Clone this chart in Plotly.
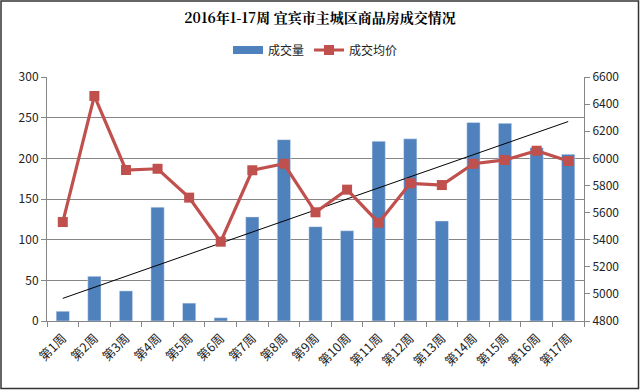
import numpy as np
import plotly.graph_objects as go

weeks = [f"第{i}周" for i in range(1, 18)]
volume = [12, 55, 37, 140, 22, 4, 128, 223, 116, 111, 221, 224, 123, 244, 243, 213, 205]
avg_price = [5530, 6460, 5914, 5923, 5710, 5385, 5912, 5960, 5602, 5769, 5525, 5816, 5803, 5960, 5988, 6056, 5980]
left_ticks = [0, 50, 100, 150, 200, 250, 300]
right_ticks = [4800, 5000, 5200, 5400, 5600, 5800, 6000, 6200, 6400, 6600]

W, H = 640, 390
L, R, T, B = 47, 56, 77, 69
pw, ph = W - L - R, H - T - B

idx = np.arange(len(volume))
k, b = np.polyfit(idx, volume, 1)
trend = k * idx + b

fig = go.Figure()
fig.add_trace(go.Bar(x=weeks, y=volume, name="成交量", marker_color="#4F81BD",
                     width=0.42, yaxis="y", showlegend=False))
# legend proxy: wide rectangle swatch like the original
fig.add_trace(go.Scatter(x=[None], y=[None], mode="lines", name="成交量",
                         line=dict(color="#4F81BD", width=8), yaxis="y"))
fig.add_trace(go.Scatter(x=weeks, y=avg_price, name="成交均价", mode="lines+markers",
                         line=dict(color="#C0504D", width=3.2),
                         marker=dict(symbol="square", size=10, color="#C0504D"),
                         yaxis="y2"))
fig.add_trace(go.Scatter(x=weeks, y=trend, mode="lines", showlegend=False,
                         line=dict(color="black", width=1), yaxis="y", hoverinfo="skip"))

fig.update_layout(
    width=W, height=H,
    margin=dict(l=L, r=R, t=T, b=B, autoexpand=False),
    paper_bgcolor="white", plot_bgcolor="white",
    font=dict(family="'Noto Sans CJK SC', sans-serif", size=12, color="#222"),
    title=dict(text="<b>2016年1-17周 宜宾市主城区商品房成交情况</b>", x=0.5, xanchor="center",
               y=1 - 18 / H, yanchor="middle",
               font=dict(size=14, family="'Noto Serif CJK SC', 'Noto Sans CJK SC', serif", color="black")),
    legend=dict(orientation="h", x=0.5, xanchor="center", y=1 + (77 - 50) / ph, yanchor="middle",
                font=dict(size=12), traceorder="normal", itemwidth=30),
    bargap=0.5,
    xaxis=dict(range=[-0.5, len(weeks) - 0.5], tickangle=-45, showline=True, linecolor="#868686",
               ticks="outside", tickson="boundaries", ticklen=5, tickcolor="#868686",
               automargin=False, tickfont=dict(size=12.5), showgrid=False, ticklabelstandoff=4),
    yaxis=dict(range=[0, 300], tickvals=left_ticks, showline=True, linecolor="#868686",
               showgrid=True, gridcolor="#868686", gridwidth=1, ticks="outside",
               ticklen=5, tickcolor="#868686", zeroline=False, tickfont=dict(size=12),
               automargin=False),
    yaxis2=dict(range=[4800, 6600], tickvals=right_ticks, overlaying="y", side="right",
                showline=True, linecolor="#868686", showgrid=False, ticks="outside",
                ticklen=5, tickcolor="#868686", zeroline=False, tickfont=dict(size=12),
                automargin=False),
)
fig.add_shape(type="rect", xref="paper", yref="paper",
              x0=-(L - 1) / pw, x1=1 + (R - 1.5) / pw,
              y0=-(B - 1.5) / ph, y1=1 + (T - 1) / ph,
              line=dict(color="#333", width=1.5), fillcolor="rgba(0,0,0,0)")
fig.write_html("out.html", config={"displayModeBar": False},
               post_script="document.body.style.margin='0';document.body.style.overflow='hidden';")
